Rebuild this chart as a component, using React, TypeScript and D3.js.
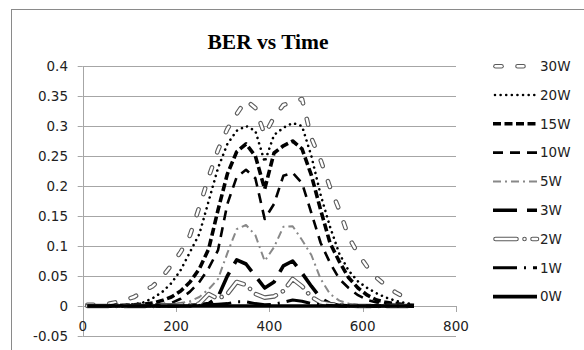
import React from "react";
import * as d3 from "d3";

const times = [10, 30, 50, 70, 90, 110, 130, 150, 170, 190, 210, 230, 250, 270, 290, 310, 330, 350, 370, 390, 410, 430, 450, 470, 490, 510, 530, 550, 570, 590, 610, 630, 650, 670, 690, 710];

const w30 = [0.002, 0.002, 0.003, 0.006, 0.01, 0.015, 0.025, 0.033, 0.048, 0.068, 0.09, 0.118, 0.165, 0.215, 0.26, 0.295, 0.32, 0.343, 0.33, 0.285, 0.315, 0.335, 0.34, 0.345, 0.28, 0.243, 0.198, 0.16, 0.115, 0.087, 0.065, 0.047, 0.034, 0.023, 0.014, 0.01];
const w20 = [0.001, 0.001, 0.001, 0.002, 0.002, 0.003, 0.006, 0.013, 0.023, 0.038, 0.06, 0.09, 0.12, 0.175, 0.23, 0.27, 0.292, 0.3, 0.292, 0.24, 0.285, 0.297, 0.305, 0.3, 0.25, 0.185, 0.132, 0.087, 0.059, 0.041, 0.03, 0.021, 0.014, 0.009, 0.005, 0.003];
const w15 = [0, 0, 0, 0.001, 0.001, 0.002, 0.003, 0.005, 0.009, 0.015, 0.025, 0.04, 0.062, 0.095, 0.16, 0.22, 0.257, 0.27, 0.25, 0.195, 0.255, 0.267, 0.275, 0.262, 0.218, 0.16, 0.105, 0.074, 0.047, 0.03, 0.018, 0.01, 0.006, 0.004, 0.002, 0.001];
const w10 = [0, 0, 0, 0, 0, 0.001, 0.001, 0.002, 0.003, 0.005, 0.012, 0.024, 0.04, 0.063, 0.093, 0.17, 0.215, 0.227, 0.213, 0.145, 0.17, 0.217, 0.222, 0.205, 0.155, 0.105, 0.072, 0.045, 0.03, 0.018, 0.01, 0.006, 0.003, 0.002, 0.001, 0];
const w5 = [0, 0, 0, 0, 0, 0, 0.001, 0.001, 0.002, 0.003, 0.005, 0.008, 0.015, 0.028, 0.045, 0.088, 0.128, 0.135, 0.118, 0.075, 0.098, 0.132, 0.133, 0.11, 0.085, 0.045, 0.02, 0.009, 0.004, 0.002, 0.001, 0.001, 0, 0, 0, 0];
const w3 = [0, 0, 0, 0, 0, 0, 0, 0, 0, 0, 0.001, 0.001, 0.002, 0.004, 0.015, 0.05, 0.077, 0.07, 0.05, 0.03, 0.04, 0.067, 0.075, 0.055, 0.033, 0.013, 0.004, 0.001, 0, 0, 0, 0, 0, 0, 0, 0];
const w2 = [0, 0, 0, 0, 0, 0, 0, 0, 0.001, 0.001, 0.002, 0.002, 0.004, 0.02, 0.012, 0.02, 0.04, 0.035, 0.02, 0.014, 0.016, 0.025, 0.045, 0.033, 0.015, 0.006, 0.003, 0.002, 0.001, 0, 0, 0, 0, 0, 0, 0];
const w1 = [0, 0, 0, 0, 0, 0, 0, 0, 0, 0, 0, 0, 0.001, 0.002, 0.003, 0.004, 0.007, 0.007, 0.004, 0.002, 0.003, 0.006, 0.01, 0.008, 0.004, 0.002, 0.001, 0, 0, 0, 0, 0, 0, 0, 0, 0];
const w0 = [0, 0, 0, 0, 0, 0, 0, 0, 0, 0, 0, 0, 0, 0, 0, 0, 0, 0, 0, 0, 0, 0, 0, 0, 0, 0, 0, 0, 0, 0, 0, 0, 0, 0, 0, 0];

const seriesNames = ["30W", "20W", "15W", "10W", "5W", "3W", "2W", "1W", "0W"];
const seriesValues = [w30, w20, w15, w10, w5, w3, w2, w1, w0];

const yTicks = [-0.05, 0, 0.05, 0.1, 0.15, 0.2, 0.25, 0.3, 0.35, 0.4];
const xTicks = [0, 200, 400, 600, 800];

type Style = {
  color: string;
  width: number;
  dash: string;
  cap: "butt" | "round";
  hollow?: boolean;
  legendStart: number;
};

const styles: Style[] = [
  { color: "#5a5a5a", width: 4.6, dash: "6 16", cap: "round", hollow: true, legendStart: 495.5 },
  { color: "#000", width: 2.6, dash: "0.01 5.6", cap: "round", legendStart: 495 },
  { color: "#000", width: 3.6, dash: "8 3.5", cap: "butt", legendStart: 493 },
  { color: "#000", width: 2.6, dash: "10 7", cap: "butt", legendStart: 493 },
  { color: "#888", width: 2, dash: "8 4 2 4", cap: "butt", legendStart: 493 },
  { color: "#000", width: 3.6, dash: "24 10", cap: "butt", legendStart: 493 },
  { color: "#5a5a5a", width: 4.6, dash: "21 8 0.01 8", cap: "round", hollow: true, legendStart: 495.5 },
  { color: "#000", width: 3, dash: "24 7 2 7", cap: "butt", legendStart: 493 },
  { color: "#000", width: 3.6, dash: "none", cap: "butt", legendStart: 493 },
];

const FONT = "'DejaVu Sans', sans-serif";

export default function App() {
  const x = d3.scaleLinear().domain([0, 800]).range([82.7, 456]);
  const y = d3.scaleLinear().domain([-0.05, 0.4]).range([336, 66]);

  const line = d3
    .line<number>()
    .x((_, i) => x(times[i]))
    .y((d) => y(d));

  const legendX1 = 537;
  const legendY0 = 66.2;
  const legendStep = 28.8;

  const renderStroke = (d: string, s: Style, key: string) => {
    if (s.hollow) {
      return (
        <g key={key}>
          <path d={d} fill="none" stroke={s.color} strokeWidth={s.width} strokeDasharray={s.dash} strokeLinecap={s.cap} strokeLinejoin="round" />
          <path d={d} fill="none" stroke="#fff" strokeWidth={s.width - 2.2} strokeDasharray={s.dash} strokeLinecap={s.cap} strokeLinejoin="round" />
        </g>
      );
    }
    return (
      <path key={key} d={d} fill="none" stroke={s.color} strokeWidth={s.width} strokeDasharray={s.dash} strokeLinecap={s.cap} strokeLinejoin="round" />
    );
  };

  return (
    <svg width={584} height={350} style={{ position: "absolute", left: 0, top: 0, background: "#fff" }}>
      <rect x={0} y={0} width={584} height={350} fill="#fff" />
      <rect x={11.5} y={9.5} width={640} height={400} fill="none" stroke="#8a8a8a" strokeWidth={1} />
      <text x={268} y={49} textAnchor="middle" fontFamily="'Liberation Serif', 'Times New Roman', serif" fontWeight="bold" fontSize={21.5} fill="#000">
        BER vs Time
      </text>
      {yTicks.map((t) => (
        <g key={"g" + t}>
          <line x1={x(0)} x2={x(800)} y1={Math.round(y(t)) + 0.5} y2={Math.round(y(t)) + 0.5} stroke="#a6a6a6" strokeWidth={1} />
          <line x1={x(0) - 5} x2={x(0)} y1={Math.round(y(t)) + 0.5} y2={Math.round(y(t)) + 0.5} stroke="#a6a6a6" strokeWidth={1} />
          <text x={68} y={y(t)} dy="0.36em" textAnchor="end" fontFamily={FONT} fontSize={13.5} fill="#222">
            {String(t)}
          </text>
        </g>
      ))}
      <line x1={Math.round(x(0)) + 0.5} x2={Math.round(x(0)) + 0.5} y1={y(0.4)} y2={y(-0.05)} stroke="#a6a6a6" strokeWidth={1} />
      {xTicks.map((t) => (
        <g key={"x" + t}>
          <line x1={Math.round(x(t)) + 0.5} x2={Math.round(x(t)) + 0.5} y1={y(0)} y2={y(0) + 6} stroke="#a6a6a6" strokeWidth={1} />
          <text x={x(t)} y={y(0) + 20} dy="0.36em" textAnchor="middle" fontFamily={FONT} fontSize={13.5} fill="#222">
            {t}
          </text>
        </g>
      ))}
      {seriesValues.map((vals, i) => renderStroke(line(vals) || "", styles[i], "s" + i))}
      {seriesNames.map((name, i) => {
        const ly = legendY0 + i * legendStep;
        return (
          <g key={"l" + i}>
            {renderStroke(`M${styles[i].legendStart},${ly}L${legendX1},${ly}`, styles[i], "ls" + i)}
            <text x={540} y={ly} dy="0.36em" fontFamily={FONT} fontSize={13.5} fill="#222">
              {name}
            </text>
          </g>
        );
      })}
    </svg>
  );
}
